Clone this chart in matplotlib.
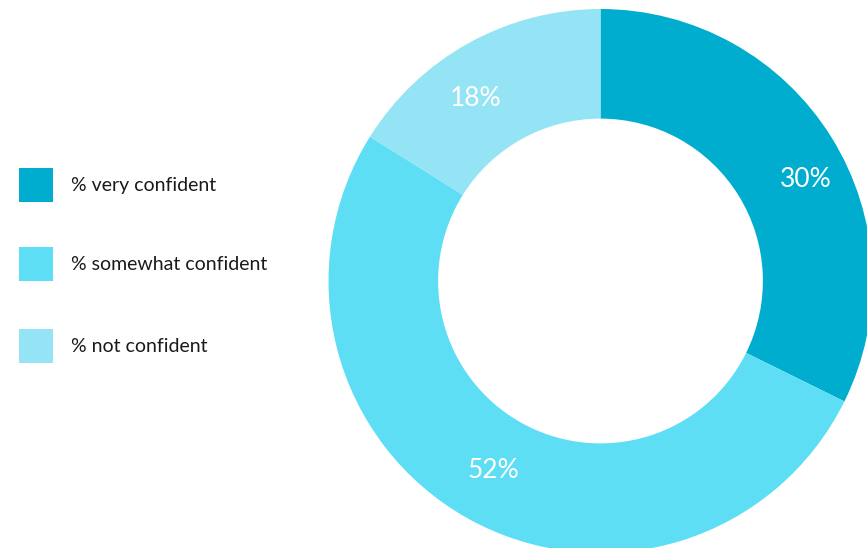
import matplotlib
matplotlib.use("Agg")
import matplotlib.pyplot as plt
import numpy as np
from matplotlib.patches import Rectangle

labels = ["% very confident", "% somewhat confident", "% not confident"]
# wedge shares as drawn (measured from the angles), and the printed labels
shares = [32.3, 51.6, 16.1]
pct_labels = ["30%", "52%", "18%"]
colors = ["#00ADCF", "#5EDEF4", "#94E4F6"]

plt.rcParams['font.family'] = ['Lato', 'DejaVu Sans']

fig = plt.figure(figsize=(8.67, 5.48), dpi=100)

# donut, center at (600.5, 281) px, radius 272 px
ax = fig.add_axes([(600.5 - 272) / 867, (267 - 272) / 548, 544 / 867, 544 / 548])
wedges, _ = ax.pie(
    shares, colors=colors, startangle=90, counterclock=False,
    wedgeprops=dict(width=0.403, linewidth=0),
)
ax.set_aspect("equal")
ax.set_xlim(-1, 1)
ax.set_ylim(-1, 1)

# value labels (angle in degrees, radius as fraction of outer radius)
label_angles = [26.3, 240.6, 124.4]
label_radii = [0.84, 0.80, 0.815]
for txt, a, r in zip(pct_labels, label_angles, label_radii):
    t = np.deg2rad(a)
    ax.text(r * np.cos(t), r * np.sin(t), txt, color="white", fontsize=19,
            ha="center", va="center")

# legend
lax = fig.add_axes([0, 0, 1, 1])
lax.set_xlim(0, 867)
lax.set_ylim(548, 0)
lax.axis("off")
ys = [185, 264, 346]
for lab, col, y in zip(labels, colors, ys):
    lax.add_patch(Rectangle((19, y - 17), 34, 34, color=col, linewidth=0))
    lax.text(71, y + 1, lab, fontsize=14, va="center", ha="left", color="#1a1a1a")

fig.savefig("out.png", dpi=100)
